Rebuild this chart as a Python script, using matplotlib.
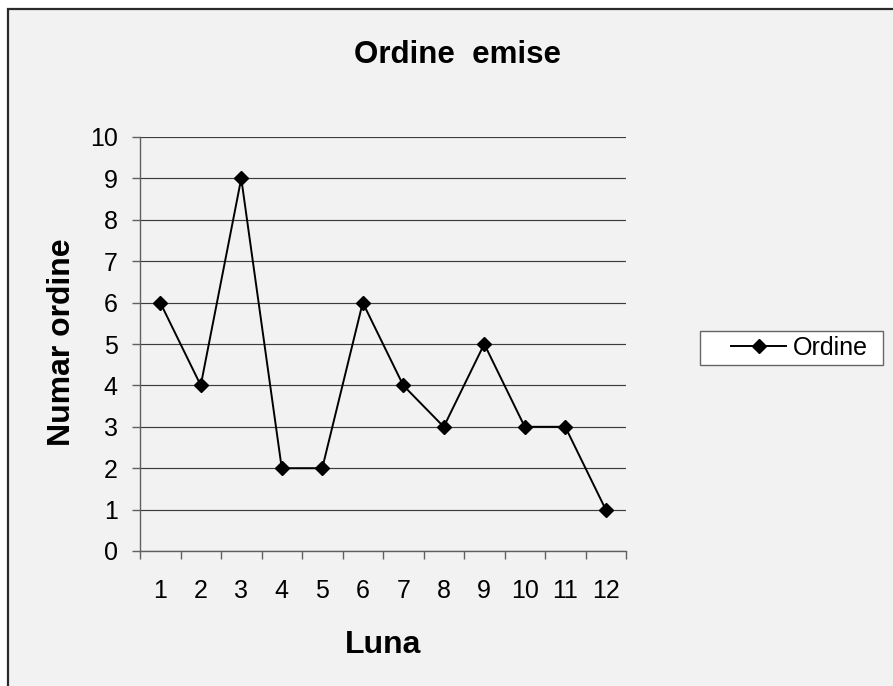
import matplotlib
matplotlib.use("Agg")
import matplotlib.pyplot as plt
from matplotlib.patches import Rectangle
import numpy as np

months = [1, 2, 3, 4, 5, 6, 7, 8, 9, 10, 11, 12]
month_labels = ["1", "2", "3", "4", "5", "6", "7", "8", "9", "10", "11", "12"]
orders = [6, 4, 9, 2, 2, 6, 4, 3, 5, 3, 3, 1]
y_ticks = [0, 1, 2, 3, 4, 5, 6, 7, 8, 9, 10]

plt.rcParams['font.family'] = ['Liberation Sans', 'DejaVu Sans']

W, H = 893, 686
fig = plt.figure(figsize=(W / 100, H / 100), dpi=100, facecolor="white")

# chart area background with border (left/top visible)
bg = Rectangle((8 / W, -0.05), 1.2, (1 - 9 / H) + 0.05, transform=fig.transFigure,
               facecolor="#f2f2f2", edgecolor="#2a2a2a", lw=1.6, zorder=-10)
fig.patches.append(bg)

ax = fig.add_axes([140 / W, 1 - 551 / H, (626 - 140) / W, (551 - 137) / H])
ax.set_facecolor("none")

ax.plot(months, orders, color="black", lw=1.4, marker="D", ms=7.2,
        mfc="black", mec="black", mew=1, label="Ordine", zorder=3)

ax.set_xlim(0.5, 12.5)
ax.set_ylim(0, 10)
ax.set_yticks(y_ticks)
ax.set_yticklabels([str(v) for v in y_ticks])
ax.set_xticks(np.arange(0.5, 13, 1))
ax.set_xticklabels([])
ax.set_xticks(months, month_labels, minor=True)

ax.yaxis.grid(True, color="#3c3c3c", lw=0.85)
ax.set_axisbelow(True)
for s in ["top", "right"]:
    ax.spines[s].set_visible(False)
for s in ["left", "bottom"]:
    ax.spines[s].set_color("#606060")
    ax.spines[s].set_linewidth(1.0)

ax.tick_params(axis="y", which="major", direction="out", length=5.5, width=1,
               color="#606060", labelsize=18, pad=10.5, labelcolor="black")
ax.tick_params(axis="x", which="major", direction="out", length=5.5, width=1,
               color="#606060")
ax.tick_params(axis="x", which="minor", length=0, labelsize=18, pad=20,
               labelcolor="black")

fig.text(457.5 / W, 1 - 63 / H, "Ordine  emise", fontsize=22.5, fontweight="bold",
         ha="center", va="baseline")
fig.text(383 / W, 1 - 653 / H, "Luna", fontsize=23, fontweight="bold",
         ha="center", va="baseline")
fig.text(70 / W, 1 - 342 / H, "Numar ordine", fontsize=23, fontweight="bold",
         ha="center", va="baseline", rotation=90, rotation_mode="anchor")

# legend box
fig.patches.append(Rectangle((700 / W, 1 - 365 / H), 183 / W, 34 / H,
                             transform=fig.transFigure, facecolor="white",
                             edgecolor="#666666", lw=1.0, zorder=1))
handles, labels = ax.get_legend_handles_labels()
fig.legend(handles, labels, loc="center left", bbox_to_anchor=(731 / W, 1 - 348 / H),
           frameon=False, fontsize=18, handlelength=2.2, handletextpad=0.29,
           borderpad=0, borderaxespad=0)

fig.savefig("out.png", dpi=100, facecolor=fig.get_facecolor())
